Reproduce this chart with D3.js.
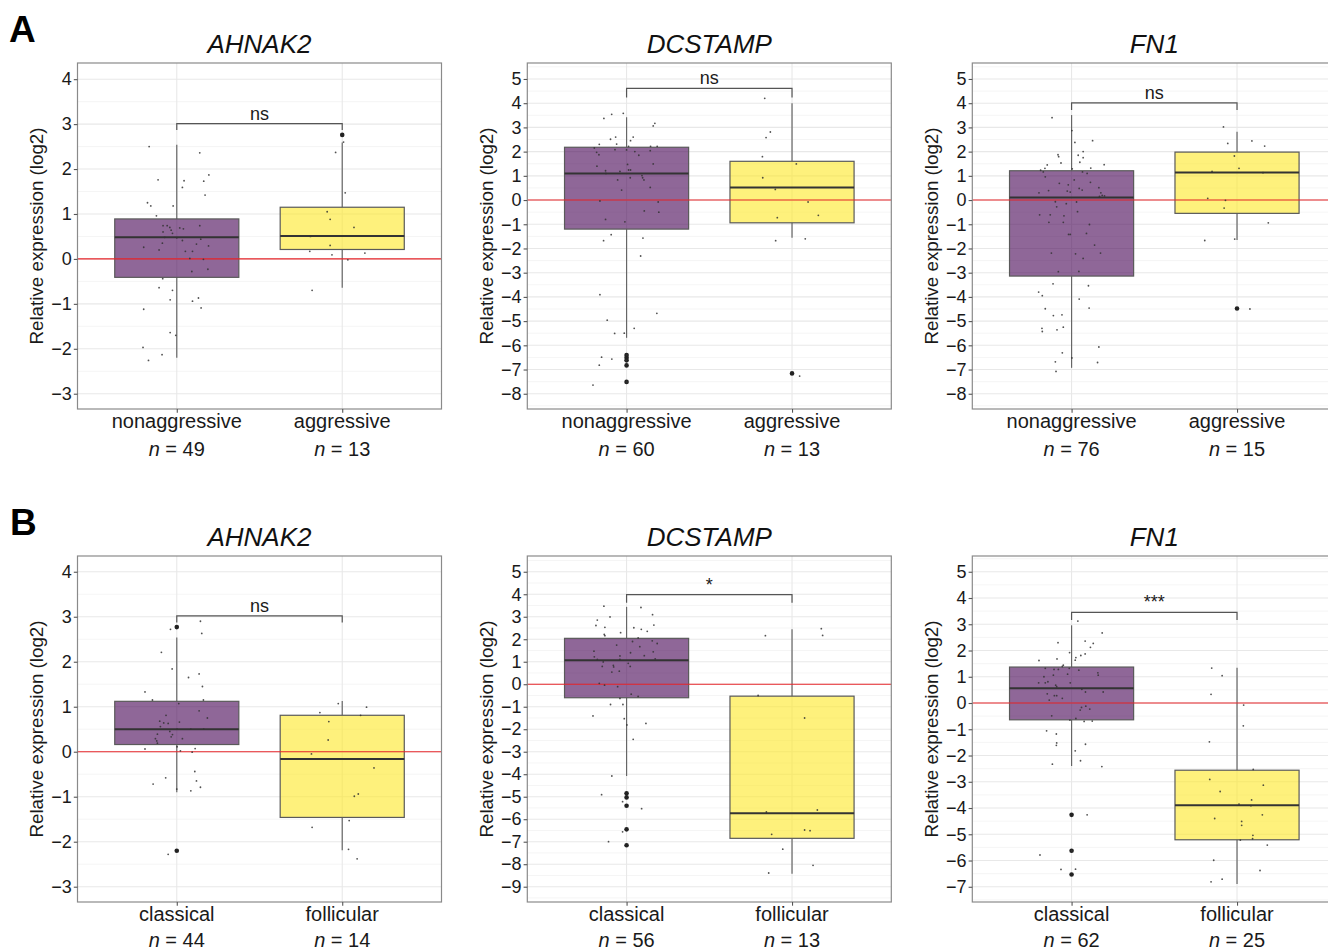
<!DOCTYPE html>
<html>
<head>
<meta charset="utf-8">
<script src="https://cdn.jsdelivr.net/npm/d3@7"></script>
<style>
  body { margin: 0; background: #fff; }
  svg { font-family: "Liberation Sans", Arial, sans-serif; }
</style>
</head>
<body>
<svg id="fig" width="1328" height="949"></svg>
<script>
// ---- data ----
const genes = ["AHNAK2", "DCSTAMP", "FN1"];
const groupsA = ["nonaggressive", "aggressive"];
const groupsB = ["classical", "follicular"];
const countsA = [[49, 13], [60, 13], [76, 15]];
const countsB = [[44, 14], [56, 13], [62, 25]];
const yDomainsA = [[-3.34, 4.36], [-8.63, 5.66], [-8.63, 5.66]];
const yDomainsB = [[-3.34, 4.35], [-9.68, 5.70], [-7.58, 5.60]];
const sigA = ["ns", "ns", "ns"];
const sigB = ["ns", "*", "***"];
// [bracket level, tip end]
const bracketA = [[3.01, 2.87], [4.61, 4.24], [4.01, 3.72]];
const bracketB = [[3.02, 2.87], [3.98, 3.62], [3.45, 3.16]];

// box stats: [whisker low, q1, median, q3, whisker high]
const boxA_AHNAK2 = [[-2.20, -0.41, 0.48, 0.89, 2.54], [-0.64, 0.21, 0.51, 1.15, 2.59]];
const boxA_DCSTAMP = [[-5.69, -1.20, 1.10, 2.18, 3.42], [-1.56, -0.94, 0.52, 1.60, 4.00]];
const boxA_FN1 = [[-6.93, -3.14, 0.11, 1.21, 3.51], [-1.65, -0.55, 1.14, 1.98, 2.82]];
const boxB_AHNAK2 = [[-0.90, 0.16, 0.50, 1.12, 2.54], [-2.19, -1.46, -0.16, 0.81, 1.13]];
const boxB_DCSTAMP = [[-4.08, -0.60, 1.07, 2.04, 3.44], [-8.42, -6.85, -5.74, -0.53, 2.44]];
const boxB_FN1 = [[-2.40, -0.64, 0.56, 1.37, 2.96], [-6.89, -5.21, -3.89, -2.56, 1.34]];

const outA_AHNAK2 = [[], [2.76]];
const outA_DCSTAMP = [[-6.40, -6.51, -6.62, -6.83, -7.51], [-7.16]];
const outA_FN1 = [[], [-4.48]];
const outB_AHNAK2 = [[2.77, -2.20], []];
const outB_DCSTAMP = [[-4.85, -5.03, -5.40, -6.45, -7.16], []];
const outB_FN1 = [[-4.26, -5.63, -6.53], []];

// jittered points: [x offset (category units), value]
const jitA_AHNAK2_non = [[-0.167,2.50],[0.139,2.36],[0.194,1.87],[-0.113,1.76],[0.044,1.74],[0.163,1.73],[0.034,1.59],[0.171,1.42],[-0.177,1.25],[-0.157,1.18],[-0.022,1.18],[-0.123,0.96],[-0.083,0.74],[-0.058,0.74],[-0.042,0.70],[0.018,0.69],[0.040,0.67],[0.139,0.74],[-0.034,0.64],[-0.083,0.60],[-0.026,0.57],[-0.073,0.48],[0,0.47],[0.145,0.44],[0.034,0.41],[-0.087,0.35],[0.119,0.33],[-0.2,0.26],[0.192,0.29],[-0.107,0.20],[0.052,0.17],[0.095,0.17],[0.079,0.01],[0.161,-0.01],[0.188,-0.23],[0.091,-0.28],[-0.085,-0.44],[-0.107,-0.64],[-0.026,-0.70],[0.131,-0.87],[-0.04,-0.91],[0.095,-0.94],[0.147,-1.09],[-0.2,-1.12],[-0.04,-1.64],[-0.006,-1.70],[-0.204,-1.97],[-0.089,-2.13],[-0.171,-2.26]];
const jitA_AHNAK2_agg = [[0.008,2.60],[-0.04,2.37],[0.018,1.47],[-0.091,1.05],[-0.073,0.88],[0.071,0.70],[-0.192,0.50],[-0.073,0.30],[-0.196,0.17],[-0.062,0.09],[0.137,0.13],[0.034,-0.02],[-0.182,-0.70]];
const jitA_DCSTAMP_non = [[-0.02,3.58],[-0.09,3.54],[-0.137,3.37],[0.171,3.17],[0.161,3.06],[0.04,2.60],[-0.066,2.60],[-0.097,2.51],[0.024,2.45],[-0.06,2.31],[-0.165,2.30],[-0.195,2.15],[0.012,2.22],[0.145,2.22],[0.185,2.22],[-0.07,2.08],[0,2.07],[0.143,2.04],[-0.181,1.97],[-0.167,1.87],[0.074,1.85],[0.006,1.47],[0.161,1.49],[-0.179,1.40],[-0.127,1.21],[-0.125,1.10],[-0.04,1.18],[0.012,1.24],[0.024,1.24],[0.093,1.01],[0.022,0.92],[0.097,0.92],[-0.054,0.83],[0.105,0.83],[0.143,0.52],[-0.161,-0.04],[0.191,-0.08],[0.107,-0.45],[0.195,-0.50],[-0.127,-0.80],[-0.01,-0.90],[-0.093,-1.43],[0.099,-1.57],[-0.139,-1.68],[0.085,-2.31],[-0.161,-3.91],[0.183,-4.68],[-0.117,-4.96],[0.046,-5.30],[-0.072,-5.51],[-0.014,-5.50],[-0.151,-6.49],[-0.089,-6.57],[-0.165,-6.82],[-0.203,-7.64],[0.002,-6.40],[-0.003,-6.62],[0.001,-7.51],[0.05,2.00],[-0.03,0.41]];
const jitA_DCSTAMP_agg = [[-0.165,4.20],[-0.131,2.81],[-0.157,2.58],[-0.179,1.79],[0.026,1.49],[-0.177,0.92],[-0.101,0.44],[0.097,-0.08],[0.159,-0.63],[-0.089,-0.73],[-0.099,-1.68],[0.080,-1.60],[0.046,-7.27]];
const jitA_FN1_non = [[-0.118,3.40],[0.002,2.87],[0.127,2.45],[0.02,2.38],[0.070,2.00],[-0.082,1.87],[0.040,1.85],[-0.078,1.79],[0.070,1.75],[0.050,1.56],[-0.064,1.53],[0.197,1.46],[-0.147,1.45],[-0.161,1.31],[0.116,1.32],[0.004,1.29],[-0.187,1.23],[-0.171,1.16],[0.066,1.16],[0.094,1.10],[-0.159,0.96],[0.114,0.73],[-0.074,0.69],[-0.02,0.63],[0.165,0.51],[0.046,0.48],[0.064,0.41],[-0.139,0.39],[-0.026,0.37],[-0.008,0.33],[-0.197,0.30],[0.177,0.30],[0.185,0.19],[0.169,0.15],[0.199,0.17],[-0.098,-0.07],[-0.032,-0.15],[0.030,-0.08],[0.036,-0.48],[-0.193,-0.61],[-0.129,-0.61],[-0.046,-0.65],[-0.137,-0.92],[-0.05,-0.92],[0.108,-1.01],[-0.018,-1.42],[-0.008,-1.42],[0.139,-1.86],[-0.122,-2.19],[0.024,-2.22],[0.175,-2.19],[0.070,-2.41],[-0.08,-2.96],[0.044,-2.95],[-0.112,-3.46],[0.102,-3.54],[-0.199,-3.80],[-0.177,-3.95],[0.046,-4.09],[-0.159,-4.49],[0.106,-4.46],[-0.110,-4.77],[-0.058,-4.74],[-0.050,-5.25],[-0.179,-5.30],[-0.088,-5.36],[-0.177,-5.43],[0.165,-6.07],[-0.056,-6.31],[0.002,-6.52],[-0.098,-6.68],[0.157,-6.71],[-0.094,-7.08],[0.016,0.83],[-0.09,-0.28],[0.09,-1.38]];
const jitA_FN1_agg = [[-0.082,3.02],[-0.056,2.34],[0.090,2.44],[0.167,2.23],[-0.016,1.82],[0.012,1.31],[-0.151,1.18],[0.157,1.13],[-0.177,0.07],[-0.070,-0.01],[-0.078,-0.33],[0.189,-0.94],[-0.195,-1.67],[-0.014,-1.61],[0.078,-4.50]];
const jitB_AHNAK2_cla = [[0.143,2.90],[-0.038,2.72],[0.151,2.63],[-0.093,2.21],[-0.028,1.84],[0.135,1.73],[0.071,1.65],[0.155,1.45],[-0.192,1.33],[-0.147,1.15],[0.161,1.15],[0.012,1.07],[0.135,0.91],[-0.065,0.81],[0.185,0.75],[-0.103,0.68],[-0.079,0.64],[-0.052,0.63],[0.016,0.66],[-0.099,0.56],[-0.042,0.45],[0.002,0.50],[0.085,0.50],[0.163,0.50],[-0.026,0.38],[-0.117,0.39],[-0.034,0.33],[0.034,0.29],[-0.129,0.29],[-0.121,0.24],[-0.117,0.19],[0.002,0.11],[-0.192,0.06],[0.111,0.07],[0.022,0.02],[0.093,-0.01],[0.109,-0.44],[-0.067,-0.58],[0.119,-0.65],[-0.143,-0.72],[0.143,-0.79],[0,-0.83],[0.085,-0.87],[-0.052,-2.28]];
const jitB_AHNAK2_fol = [[-0.024,1.07],[0.147,0.99],[-0.135,0.87],[0.111,0.81],[-0.081,0.67],[-0.085,0.26],[-0.186,-0.05],[0.192,-0.36],[0.097,-0.94],[0.073,-0.99],[0.042,-1.53],[-0.182,-1.68],[0.038,-2.17],[0.090,-2.38]];
const jitB_DCSTAMP_cla = [[-0.137,3.47],[0.087,3.41],[-0.10,2.99],[0.157,3.09],[-0.177,2.85],[-0.185,2.61],[0.165,2.63],[-0.131,2.53],[0.044,2.51],[0.089,2.44],[0.125,2.35],[-0.036,2.29],[-0.135,2.21],[-0.131,2.16],[0.070,2.06],[0.036,1.90],[0.155,1.93],[0.185,1.81],[-0.197,1.47],[0.024,1.40],[0.161,1.44],[0.107,1.27],[-0.04,1.26],[-0.195,1.22],[-0.177,1.10],[0.173,1.13],[-0.04,1.10],[-0.141,0.99],[-0.08,0.84],[-0.078,0.77],[-0.147,0.79],[0.022,0.79],[-0.044,0.58],[-0.089,0.54],[-0.165,0.04],[-0.133,-0.04],[-0.054,-0.11],[0.028,-0.44],[0.070,-0.54],[-0.04,-0.63],[-0.097,-0.90],[-0.022,-0.90],[-0.203,-1.41],[-0.014,-1.53],[0.117,-1.74],[0.002,-1.81],[0.040,-2.45],[-0.089,-4.08],[-0.151,-4.91],[-0.024,-5.22],[0.091,-5.53],[-0.024,-6.56],[-0.109,-7.00],[0.01,0.93],[0.08,1.67],[-0.06,1.74]];
const jitB_DCSTAMP_fol = [[0.177,2.47],[0.185,2.17],[-0.161,2.16],[-0.205,-0.50],[0.076,-1.50],[0.153,-5.59],[-0.155,-5.68],[0.076,-6.48],[0.109,-6.51],[-0.123,-6.67],[-0.056,-7.33],[0.127,-8.05],[-0.141,-8.39]];
const jitB_FN1_cla = [[0.038,3.12],[0.185,2.67],[-0.082,2.30],[0.082,2.36],[0.131,2.27],[0.114,2.12],[-0.012,1.92],[0.082,1.87],[0.056,1.81],[0.026,1.73],[0.022,1.63],[-0.197,1.62],[-0.088,1.68],[-0.05,1.44],[-0.056,1.39],[-0.159,1.32],[-0.106,1.28],[-0.014,1.32],[0.044,1.25],[-0.080,1.28],[0.159,1.15],[0.161,1.06],[-0.024,1.10],[-0.167,1.00],[-0.110,1.06],[-0.143,0.81],[-0.159,0.77],[-0.199,0.77],[-0.008,0.77],[-0.096,0.68],[-0.090,0.62],[0.062,0.52],[0.084,0.42],[0.191,0.42],[-0.147,0.35],[-0.104,0.28],[-0.090,0.28],[-0.056,0.18],[-0.135,0.11],[0.086,-0.12],[0.060,-0.17],[0.110,-0.23],[0.052,-0.27],[-0.120,-0.49],[0.026,-0.59],[-0.010,-0.65],[0.076,-0.70],[0.125,-0.69],[-0.151,-1.06],[-0.092,-1.18],[-0.090,-1.52],[-0.092,-1.61],[0.084,-1.57],[0.022,-1.82],[0.054,-2.20],[-0.116,-2.33],[0.183,-2.42],[0.094,-4.26],[-0.191,-5.79],[-0.064,-6.34],[0.024,-6.33],[0.001,-5.63]];
const jitB_FN1_fol = [[-0.153,1.33],[-0.090,1.04],[-0.157,0.33],[0.040,-0.08],[0.038,-0.87],[-0.167,-1.48],[0.098,-2.53],[-0.165,-2.91],[0.159,-3.13],[-0.102,-3.37],[0.088,-3.69],[0.012,-3.85],[0.084,-3.91],[0.153,-4.26],[-0.135,-4.40],[0.028,-4.51],[0.028,-4.66],[0.096,-5.04],[0.094,-5.17],[0.020,-5.22],[0.183,-5.41],[-0.141,-5.99],[0.139,-6.38],[-0.157,-6.81],[-0.090,-6.71]];

// ---- layout ----
const svg = d3.select("#fig");
const colLeft = [77.5, 527.3, 972.3];
const rowTop = [63, 556];
const nLineOffset = [46.5, 44.5];
const panelW = 364, panelH = 346;
const fills = ["#440154", "#FDE725"];
const textCol = "#1a1a1a";

const panels = [
  { row: 0, col: 0, groups: groupsA, n: countsA[0], dom: yDomainsA[0], box: boxA_AHNAK2, out: outA_AHNAK2, pts: [jitA_AHNAK2_non, jitA_AHNAK2_agg], sig: sigA[0], br: bracketA[0] },
  { row: 0, col: 1, groups: groupsA, n: countsA[1], dom: yDomainsA[1], box: boxA_DCSTAMP, out: outA_DCSTAMP, pts: [jitA_DCSTAMP_non, jitA_DCSTAMP_agg], sig: sigA[1], br: bracketA[1] },
  { row: 0, col: 2, groups: groupsA, n: countsA[2], dom: yDomainsA[2], box: boxA_FN1, out: outA_FN1, pts: [jitA_FN1_non, jitA_FN1_agg], sig: sigA[2], br: bracketA[2] },
  { row: 1, col: 0, groups: groupsB, n: countsB[0], dom: yDomainsB[0], box: boxB_AHNAK2, out: outB_AHNAK2, pts: [jitB_AHNAK2_cla, jitB_AHNAK2_fol], sig: sigB[0], br: bracketB[0] },
  { row: 1, col: 1, groups: groupsB, n: countsB[1], dom: yDomainsB[1], box: boxB_DCSTAMP, out: outB_DCSTAMP, pts: [jitB_DCSTAMP_cla, jitB_DCSTAMP_fol], sig: sigB[1], br: bracketB[1] },
  { row: 1, col: 2, groups: groupsB, n: countsB[2], dom: yDomainsB[2], box: boxB_FN1, out: outB_FN1, pts: [jitB_FN1_cla, jitB_FN1_fol], sig: sigB[2], br: bracketB[2] },
];

// panel letters
svg.append("text").attr("x", 9).attr("y", 42).text("A")
  .attr("font-size", 37).attr("font-weight", "bold").attr("fill", "#000");
svg.append("text").attr("x", 10).attr("y", 535).text("B")
  .attr("font-size", 37).attr("font-weight", "bold").attr("fill", "#000");

panels.forEach(p => drawPanel(p));

function drawPanel(p) {
  const left = colLeft[p.col], top = rowTop[p.row];
  const x = d3.scaleLinear().domain([0.4, 2.6]).range([left, left + panelW]);
  const y = d3.scaleLinear().domain(p.dom).range([top + panelH, top]);
  const g = svg.append("g");

  const majors = d3.range(Math.ceil(p.dom[0]), Math.floor(p.dom[1]) + 1);
  const minors = d3.range(Math.ceil(p.dom[0] - 0.5) + 0.5, p.dom[1], 1);

  // gridlines
  g.selectAll(".minor").data(minors).join("line")
    .attr("x1", left).attr("x2", left + panelW)
    .attr("y1", d => y(d)).attr("y2", d => y(d))
    .attr("stroke", "#f2f2f2").attr("stroke-width", 0.8);
  g.selectAll(".major").data(majors).join("line")
    .attr("x1", left).attr("x2", left + panelW)
    .attr("y1", d => y(d)).attr("y2", d => y(d))
    .attr("stroke", "#e8e8e8").attr("stroke-width", 1.1);
  g.selectAll(".vmajor").data([1, 2]).join("line")
    .attr("x1", d => x(d)).attr("x2", d => x(d))
    .attr("y1", top).attr("y2", top + panelH)
    .attr("stroke", "#e8e8e8").attr("stroke-width", 1.1);

  // boxes
  p.box.forEach((b, i) => {
    const cx = x(i + 1);
    const bg = g.append("g");
    bg.append("line").attr("x1", cx).attr("x2", cx)
      .attr("y1", y(b[4])).attr("y2", y(b[3]))
      .attr("stroke", "#666").attr("stroke-width", 1.2);
    bg.append("line").attr("x1", cx).attr("x2", cx)
      .attr("y1", y(b[1])).attr("y2", y(b[0]))
      .attr("stroke", "#666").attr("stroke-width", 1.2);
    bg.append("rect")
      .attr("x", x(i + 1 - 0.375)).attr("width", x(i + 1.375) - x(i + 1 - 0.375))
      .attr("y", y(b[3])).attr("height", y(b[1]) - y(b[3]))
      .attr("fill", fills[i]).attr("fill-opacity", 0.6)
      .attr("stroke", "#5a5a5a").attr("stroke-width", 1.2);
    bg.append("line")
      .attr("x1", x(i + 1 - 0.375)).attr("x2", x(i + 1.375))
      .attr("y1", y(b[2])).attr("y2", y(b[2]))
      .attr("stroke", "#333").attr("stroke-width", 2);
    bg.selectAll(".out").data(p.out[i]).join("circle")
      .attr("cx", cx).attr("cy", d => y(d)).attr("r", 2.3)
      .attr("fill", "#222");
  });

  // reference line at 0
  g.append("line").attr("x1", left).attr("x2", left + panelW)
    .attr("y1", y(0)).attr("y2", y(0))
    .attr("stroke", "#e8262b").attr("stroke-width", 1.1);

  // jittered points
  p.pts.forEach((pts, i) => {
    g.selectAll(".pt" + i).data(pts).join("circle")
      .attr("cx", d => x(i + 1 + d[0])).attr("cy", d => y(d[1]))
      .attr("r", 0.9).attr("fill", "#333").attr("fill-opacity", 0.85);
  });

  // significance bracket
  const by = y(p.br[0]), bt = y(p.br[1]);
  g.append("path")
    .attr("d", `M${x(1)},${bt}V${by}H${x(2)}V${bt}`)
    .attr("fill", "none").attr("stroke", "#555").attr("stroke-width", 1.2);
  g.append("text").attr("x", (x(1) + x(2)) / 2).attr("y", by - 4)
    .attr("text-anchor", "middle").attr("font-size", 18).attr("fill", textCol)
    .text(p.sig);

  // panel border
  g.append("rect").attr("x", left).attr("y", top)
    .attr("width", panelW).attr("height", panelH)
    .attr("fill", "none").attr("stroke", "#8a8a8a").attr("stroke-width", 1.2);

  // y axis
  const ya = g.append("g").attr("transform", `translate(${left},0)`)
    .call(d3.axisLeft(y).tickValues(majors).tickSize(3.7).tickPadding(2));
  ya.select(".domain").remove();
  ya.selectAll(".tick line").attr("stroke", "#555").attr("stroke-width", 1.1);
  ya.selectAll(".tick text").attr("font-size", 18).attr("fill", textCol)
    .attr("font-family", "Liberation Sans, Arial, sans-serif");

  // x axis
  const xa = g.append("g").attr("transform", `translate(0,${top + panelH})`)
    .call(d3.axisBottom(x).tickValues([1, 2]).tickSize(3.7)
      .tickFormat((d, i) => p.groups[i]));
  xa.select(".domain").remove();
  xa.selectAll(".tick line").attr("stroke", "#555").attr("stroke-width", 1.1);
  xa.selectAll(".tick text").remove();
  p.groups.forEach((name, i) => {
    g.append("text").attr("x", x(i + 1)).attr("y", top + panelH + 19.3)
      .attr("text-anchor", "middle").attr("font-size", 20).attr("fill", textCol)
      .text(name);
    const t = g.append("text").attr("x", x(i + 1)).attr("y", top + panelH + nLineOffset[p.row])
      .attr("text-anchor", "middle").attr("font-size", 20).attr("fill", textCol);
    t.append("tspan").attr("font-style", "italic").text("n");
    t.append("tspan").text(" = " + p.n[i]);
  });

  // y title
  const ty = top + panelH / 2;
  const tx = left - 40.7;
  g.append("text").attr("transform", `translate(${tx},${ty}) rotate(-90)`)
    .attr("dy", "0.35em").attr("text-anchor", "middle")
    .attr("font-size", 18.8).attr("fill", textCol)
    .text("Relative expression (log2)");

  // gene title
  g.append("text").attr("x", left + panelW / 2).attr("y", top - 10)
    .attr("text-anchor", "middle").attr("font-size", 26)
    .attr("font-style", "italic").attr("fill", "#111")
    .text(genes[p.col]);
}
</script>
</body>
</html>
